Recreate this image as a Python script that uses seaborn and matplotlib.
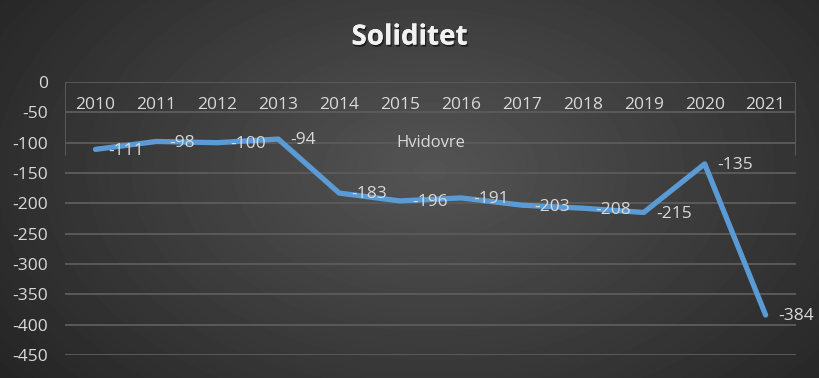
import numpy as np
import pandas as pd
import seaborn as sns
import matplotlib.pyplot as plt
import matplotlib.patheffects as pe

years = ["2010", "2011", "2012", "2013", "2014", "2015",
         "2016", "2017", "2018", "2019", "2020", "2021"]
soliditet = [-111, -98, -100, -94, -183, -196, -191, -203, -208, -215, -135, -384]
series_name = "Hvidovre"
title = "Soliditet"

sns.set_theme(style="dark")
plt.rcParams["font.family"] = ["Open Sans", "DejaVu Sans"]

txt = "#D9D9D9"
grid = "#5A5A5A"
line_col = "#5B9BD5"

fig = plt.figure(figsize=(8.19, 3.78), dpi=100)

# radial gradient background
bg = fig.add_axes([0, 0, 1, 1], zorder=-10)
yy, xx = np.mgrid[0:378, 0:819]
r = np.sqrt(((xx - 430) / 520.0) ** 2 + ((yy - 170) / 330.0) ** 2)
shade = np.clip(0.33 - 0.18 * r, 0.14, 0.33)
bg.imshow(shade, cmap="gray", vmin=0, vmax=1, aspect="auto")
bg.axis("off")

ax = fig.add_axes([0.0794, 0.0608, 0.8926, 0.7222])
ax.set_facecolor("none")

df = pd.DataFrame({"x": np.arange(len(years)), "value": soliditet})
sns.lineplot(data=df, x="x", y="value", ax=ax, color=line_col, lw=3.8,
             sort=False, solid_capstyle="round", solid_joinstyle="round",
             zorder=5)

ax.set_xlim(-0.5, len(years) - 0.5)
ax.set_ylim(-450, 0)
ax.set_yticks(np.arange(-450, 1, 50))
ax.set_yticklabels([str(v) for v in range(-450, 1, 50)], color=txt, fontsize=12.5)
ax.tick_params(axis="y", length=0, pad=12)
ax.set_xticks([])
ax.set_xlabel("")
ax.set_ylabel("")
for v in range(-450, 1, 50):
    ax.axhline(v, color=grid, lw=1.4, zorder=1)
for s in ax.spines.values():
    s.set_visible(False)
for xv in (-0.5, len(years) - 0.5):
    ax.axvline(xv, ymin=1 - 120 / 450, ymax=1, color=grid, lw=1.4, zorder=1)

# category labels placed under the zero line
for i, y in enumerate(years):
    ax.text(i, -38, y, color=txt, fontsize=12.5, ha="center", va="center")

# data labels
for i, v in enumerate(soliditet):
    ax.annotate(str(v), (i, v), xytext=(9, -1), textcoords="offset points",
                color=txt, fontsize=12.5, ha="left", va="center", zorder=6)

ax.text(5.5, -100, series_name, color=txt, fontsize=12, ha="center", va="center")

t = fig.text(0.5, 0.902, title, color="#F2F2F2", fontsize=20, fontweight="bold",
             ha="center", va="center")
t.set_path_effects([pe.withSimplePatchShadow(offset=(1, -1.5), shadow_rgbFace="black", alpha=0.5),
                    pe.Normal()])

fig.savefig("out.png", dpi=100)
